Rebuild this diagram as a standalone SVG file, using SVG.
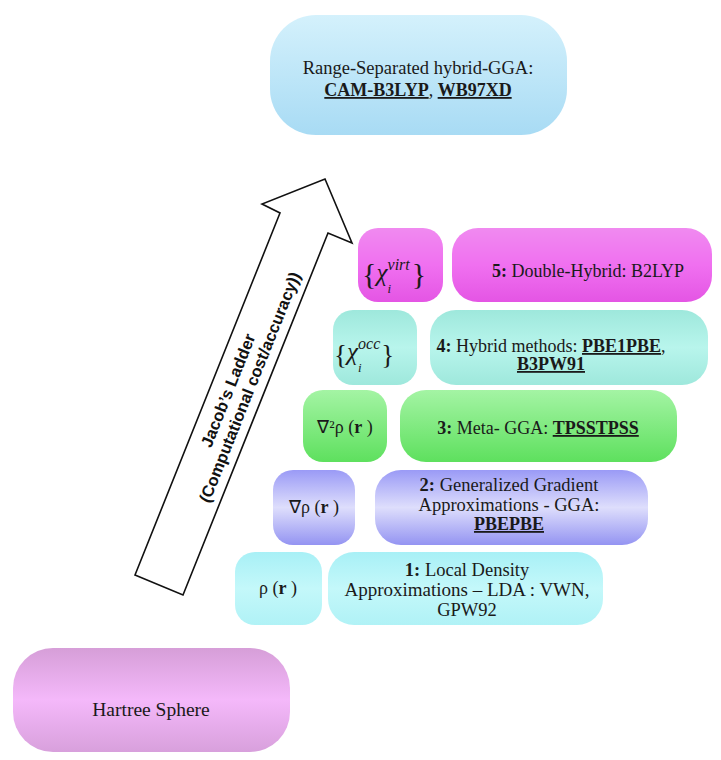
<svg xmlns="http://www.w3.org/2000/svg" width="721" height="760" viewBox="0 0 721 760">
<style>
text{font-family:"Liberation Serif","Times New Roman",serif;font-size:18px;fill:#1a1a1a}
.m{text-anchor:middle}
.b{font-weight:bold}
.u{font-weight:bold;text-decoration:underline}
.ar{font-family:"Liberation Sans",Arial,sans-serif;font-weight:bold;font-size:16.5px;text-anchor:middle;fill:#111}
.it{font-style:italic}
</style>
<defs>
<linearGradient id="gBlue" x1="0" y1="0" x2="0" y2="1"><stop offset="0" stop-color="#d4f1fc"/><stop offset="1" stop-color="#a8dbf4"/></linearGradient>
<linearGradient id="gMag" x1="0" y1="0" x2="0" y2="1"><stop offset="0" stop-color="#f08af0"/><stop offset="0.5" stop-color="#f070f0"/><stop offset="1" stop-color="#e455e4"/></linearGradient>
<linearGradient id="gTeal" x1="0" y1="0" x2="0" y2="1"><stop offset="0" stop-color="#9ee8dc"/><stop offset="0.5" stop-color="#b8f5ec"/><stop offset="1" stop-color="#9ee8dc"/></linearGradient>
<linearGradient id="gGreen" x1="0" y1="0" x2="0" y2="1"><stop offset="0" stop-color="#a4f4a4"/><stop offset="1" stop-color="#5ee05e"/></linearGradient>
<linearGradient id="gPurp" x1="0" y1="0" x2="0" y2="1"><stop offset="0" stop-color="#9a9af6"/><stop offset="0.5" stop-color="#dedefc"/><stop offset="1" stop-color="#9494f2"/></linearGradient>
<linearGradient id="gCyan" x1="0" y1="0" x2="0" y2="1"><stop offset="0" stop-color="#a8f0f6"/><stop offset="0.5" stop-color="#c4f8fa"/><stop offset="1" stop-color="#b0f2f6"/></linearGradient>
<linearGradient id="gPink" x1="0" y1="0" x2="0" y2="1"><stop offset="0" stop-color="#d69ed8"/><stop offset="0.5" stop-color="#f4b8fa"/><stop offset="1" stop-color="#d8a0dc"/></linearGradient>
</defs>

<g id="connectors">
<polygon points="135,575 183,595 328,233 352,243 325,179 262,204 280,213" fill="#fff" stroke="#111" stroke-width="1.6" stroke-linejoin="miter"/>
<g transform="translate(238,389) rotate(-68.2)">
<text class="ar" x="-5" y="-3">Jacob’s Ladder</text>
<text class="ar" x="6" y="16">(Computational cost/accuracy))</text>
</g>
</g>

<g id="range-separated">
<rect x="270" y="15" width="297" height="120" rx="46" fill="url(#gBlue)"/>
<text class="m" x="418" y="74" style="font-size:18.5px">Range-Separated hybrid-GGA:</text>
<text class="m" x="418" y="96"><tspan class="u">CAM-B3LYP</tspan>, <tspan class="u">WB97XD</tspan></text>
</g>

<g id="chi-virt">
<rect x="358" y="228" width="85" height="74" rx="20" fill="url(#gMag)"/>
<text x="362" y="284"><tspan style="font-size:30px">{</tspan><tspan class="it" style="font-size:25px" dy="-3">χ</tspan><tspan class="it" style="font-size:13px" dx="0" dy="12">i</tspan><tspan class="it" style="font-size:16px" dx="-3.5" dy="-23">virt</tspan><tspan style="font-size:30px" dx="2" dy="14">}</tspan></text>
</g>
<g id="rung5">
<rect x="452" y="228" width="260" height="74" rx="26" fill="url(#gMag)"/>
<text class="m" x="588" y="277"><tspan class="b">5:</tspan> Double-Hybrid: B2LYP</text>
</g>

<g id="chi-occ">
<rect x="333" y="310" width="84" height="75" rx="20" fill="url(#gTeal)"/>
<text x="334" y="364"><tspan style="font-size:27px">{</tspan><tspan class="it" style="font-size:25px" dy="-4">χ</tspan><tspan class="it" style="font-size:13px" dx="0" dy="12">i</tspan><tspan class="it" style="font-size:16px" dx="-3.5" dy="-23">occ</tspan><tspan style="font-size:27px" dx="1" dy="15">}</tspan></text>
</g>
<g id="rung4">
<rect x="430" y="310" width="278" height="75" rx="26" fill="url(#gTeal)"/>
<text class="m" x="551" y="352"><tspan class="b">4:</tspan> Hybrid methods: <tspan class="u">PBE1PBE</tspan>,</text>
<text class="m" x="551" y="370"><tspan class="u">B3PW91</tspan></text>
</g>

<g id="nabla2">
<rect x="303" y="390" width="84" height="72" rx="20" fill="url(#gGreen)"/>
<text class="m" x="345" y="433">∇²ρ (<tspan class="b">r</tspan> )</text>
</g>
<g id="rung3">
<rect x="400" y="390" width="277" height="72" rx="26" fill="url(#gGreen)"/>
<text class="m" x="538" y="434"><tspan class="b">3:</tspan> Meta- GGA: <tspan class="u">TPSSTPSS</tspan></text>
</g>

<g id="nabla">
<rect x="273" y="470" width="82" height="75" rx="20" fill="url(#gPurp)"/>
<text class="m" x="314" y="513">∇ρ (<tspan class="b">r</tspan> )</text>
</g>
<g id="rung2">
<rect x="375" y="470" width="273" height="75" rx="26" fill="url(#gPurp)"/>
<text class="m" x="509" y="491" style="font-size:18.5px"><tspan class="b">2:</tspan> Generalized Gradient</text>
<text class="m" x="509" y="511" style="font-size:18.5px">Approximations - GGA:</text>
<text class="m" x="509" y="530"><tspan class="u">PBEPBE</tspan></text>
</g>

<g id="rho">
<rect x="235" y="552" width="87" height="73" rx="20" fill="url(#gCyan)"/>
<text class="m" x="278" y="594">ρ (<tspan class="b">r</tspan> )</text>
</g>
<g id="rung1">
<rect x="328" y="552" width="275" height="73" rx="26" fill="url(#gCyan)"/>
<text class="m" x="467" y="576" style="font-size:18.5px"><tspan class="b">1:</tspan> Local Density</text>
<text class="m" x="467" y="596" style="font-size:19px">Approximations – LDA : VWN,</text>
<text class="m" x="467" y="616" style="font-size:18.5px">GPW92</text>
</g>

<g id="hartree">
<rect x="13" y="648" width="277" height="104" rx="40" fill="url(#gPink)"/>
<text class="m" x="151" y="716" style="font-size:19.5px">Hartree Sphere</text>
</g>
</svg>
